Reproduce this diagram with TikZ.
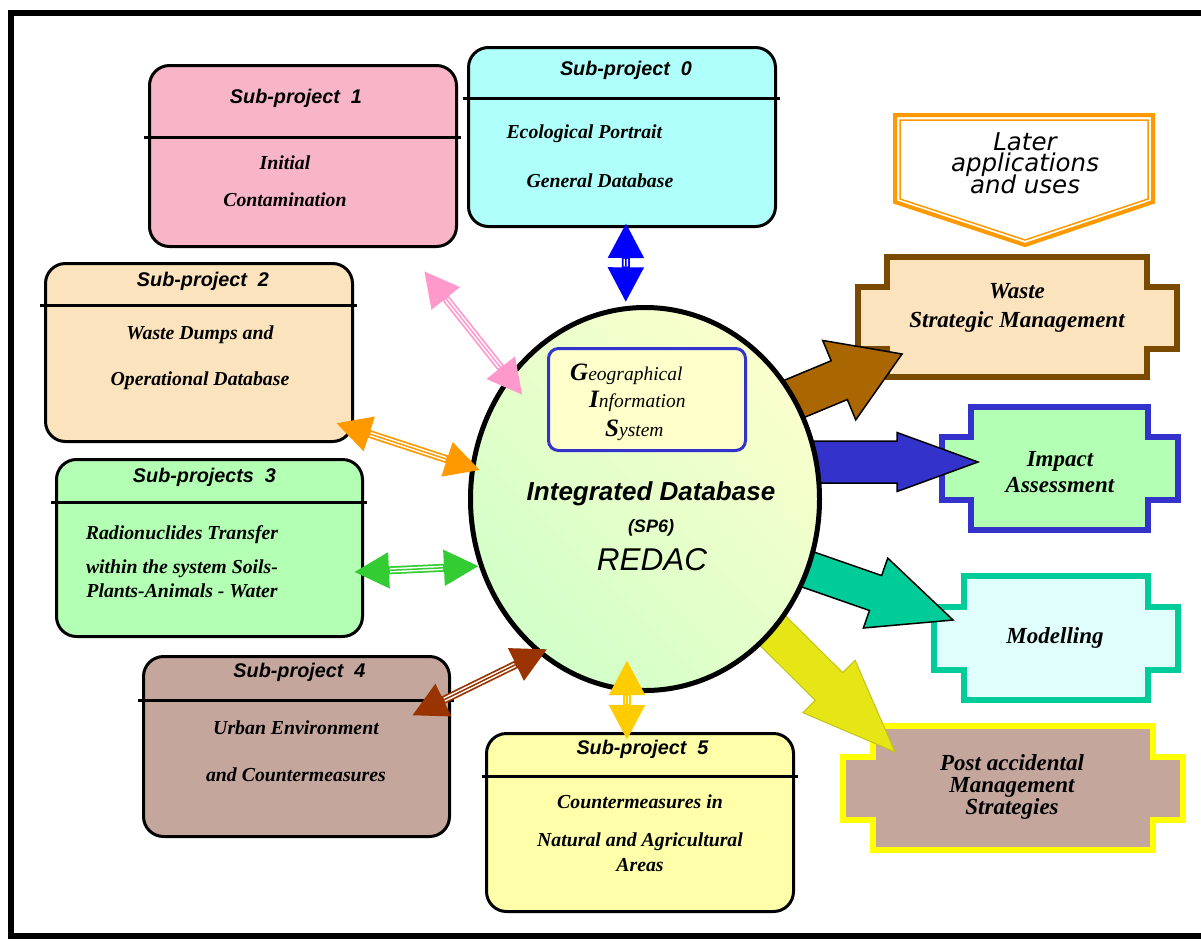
\documentclass[tikz,border=0pt]{standalone}
\usepackage{fontspec}
\setmainfont{Liberation Serif}
\setsansfont{Liberation Sans}
\newfontfamily\laterfont{DejaVu Sans}
\usetikzlibrary{arrows.meta,shapes.geometric}
\setlength{\lineskiplimit}{-30pt}

\definecolor{spzero}{HTML}{AFFFFA}
\definecolor{spone}{HTML}{F8B5C8}
\definecolor{sptwo}{HTML}{FBE3BD}
\definecolor{spthree}{HTML}{B3FFB3}
\definecolor{spfour}{HTML}{C4A69D}
\definecolor{spfive}{HTML}{FFFFAA}
\definecolor{wasteline}{HTML}{7A4A00}
\definecolor{impactline}{HTML}{3333CC}
\definecolor{modelline}{HTML}{00CC99}
\definecolor{modelfill}{HTML}{E0FFFC}
\definecolor{postline}{HTML}{FFFF00}
\definecolor{laterline}{HTML}{FF9900}
\definecolor{wastearrow}{HTML}{AA6600}
\definecolor{postarrow}{HTML}{E6E617}
\definecolor{ellgreen}{HTML}{D2FFC8}
\definecolor{ellyellow}{HTML}{FAFFCC}
\definecolor{gisfill}{HTML}{FFFFCC}
\definecolor{linkpink}{HTML}{FF99CC}
\definecolor{linkorange}{HTML}{FF9900}
\definecolor{linkgreen}{HTML}{33CC33}
\definecolor{linkbrown}{HTML}{993300}
\definecolor{linkgold}{HTML}{FFCC00}

% block arrow: style, tip, angle, length, shaft half width, head half width, head length
\newcommand{\blockarrow}[7]{%
	\path (#2) coordinate (ba-tip) ++(#3+180:#7) coordinate (ba-base)
		(ba-tip) ++(#3+180:#4) coordinate (ba-tail);
	\filldraw[#1] (ba-tip) -- ([shift={(#3+90:#6)}]ba-base) -- ([shift={(#3+90:#5)}]ba-base)
		-- ([shift={(#3+90:#5)}]ba-tail) -- ([shift={(#3-90:#5)}]ba-tail)
		-- ([shift={(#3-90:#5)}]ba-base) -- ([shift={(#3-90:#6)}]ba-base) -- cycle;}

\tikzset{
	spbox/.style = {rectangle, rounded corners=20pt, draw, line width=3pt, inner sep=0pt},
	sphead/.style = {font=\sffamily\bfseries\itshape\fontsize{19.8}{22}\selectfont},
	spbody/.style = {font=\bfseries\itshape\fontsize{19.8}{24}\selectfont, align=center},
	divider/.style = {line width=3pt},
	notch/.style = {line width=6pt},
	result/.style = {font=\bfseries\itshape\fontsize{23}{22}\selectfont, align=center},
	gisline/.style = {anchor=base west, inner sep=0pt, font=\itshape\fontsize{19.5}{20}\selectfont},
	link/.style = {draw=#1, line width=8pt,
		arrows={Triangle[length=35pt,width=34pt]-Triangle[length=35pt,width=34pt]},
		postaction={draw=white, line width=4.5pt, arrows=-, shorten <=36pt, shorten >=36pt},
		postaction={draw=#1, line width=1.5pt, arrows=-, shorten <=36pt, shorten >=36pt}}
}

\begin{document}
\begin{tikzpicture}[x=1pt, y=-1pt]

	\useasboundingbox (0,0) rectangle (1201,940);
	\clip (0,0) rectangle (1201,940);

	% Frame

	\draw[line width=6pt] (11,13) rectangle (1240,936);

	% Later applications

	\filldraw[laterline, fill=white, line width=4pt] (895,115) -- (1153,115) -- (1153,202) -- (1025,245) -- (895,202) -- cycle;
	\draw[laterline, line width=1.5pt] (900,120) -- (1148,120) -- (1148,199) -- (1025,240) -- (900,199) -- cycle;
	\node[align=center, font=\laterfont\itshape\fontsize{24.5}{21.5}\selectfont] (later) at (1025,163) {Later\\applications\\and uses};

	% Results

	\draw[notch, draw=wasteline, fill=sptwo] (887,257) -| (1147,287) -| (1177,349) -| (1147,377) -| (887,349) -| (858,287) -- (887,287) -- cycle;
	\draw[notch, draw=impactline, fill=spthree] (971,407) -| (1148,437) -| (1178,500) -| (1148,530) -| (971,500) -| (942,437) -- (971,437) -- cycle;
	\draw[notch, draw=modelline, fill=modelfill] (964,576) -| (1148,607) -| (1178,670) -| (1148,700) -| (964,670) -| (934,607) -- (964,607) -- cycle;
	\draw[notch, draw=postline, fill=spfour] (873,726) -| (1153,757) -| (1183,820) -| (1153,850) -| (873,820) -| (843,757) -- (873,757) -- cycle;

	\node[result] (waste) at (1017,307.5) {Waste\\[7pt]Strategic Management};
	\node[result] (impact) at (1060,472) {Impact\\[4pt]Assessment};
	\node[result] (model) at (1055,638) {Modelling};
	\node[result] (post) at (1012,787) {Post accidental\\Management\\Strategies};

	% Block arrows

	\blockarrow{fill=wastearrow, draw=black, line width=1.5pt}{[shift={(-115,46.5)}]waste.center}{-22.6}{168}{21}{43}{68}
	\blockarrow{fill=impactline, draw=black, line width=1.5pt}{[shift={(-82,-10)}]impact.center}{0}{200}{21}{29.5}{81}
	\blockarrow{fill=modelline, draw=black, line width=1.5pt}{[shift={(-102,-18)}]model.center}{19.2}{182}{18.5}{37}{82}
	\blockarrow{fill=postarrow, draw=postarrow!85!black, line width=1pt}{[shift={(-117,-35)}]post.center}{44.8}{223}{19.5}{37}{93}

	% Integrated database

	\node[ellipse, draw, line width=5pt, minimum width=349pt, minimum height=383pt, inner sep=0pt,
		top color=ellyellow, bottom color=ellgreen, shading angle=-45] (redac) at (645,499) {};
	\node[rectangle, rounded corners=10pt, draw=impactline, line width=3pt, fill=gisfill,
		minimum width=197pt, minimum height=102pt] (gis) at (647,399.5) {};
	\node[gisline] (gis1) at (570,380) {{\bfseries\fontsize{25}{25}\selectfont G}eographical};
	\node[gisline] (gis2) at (589,407) {{\bfseries\fontsize{25}{25}\selectfont I}nformation};
	\node[gisline] (gis3) at (605,436) {{\bfseries\fontsize{25}{25}\selectfont S}ystem};
	\node[anchor=base, font=\sffamily\bfseries\itshape\fontsize{26}{30}\selectfont] (intdb) at (651,500) {Integrated Database};
	\node[anchor=base, font=\sffamily\bfseries\itshape\fontsize{18}{20}\selectfont] (sp6) at (651,532) {(SP6)};
	\node[anchor=base, font=\sffamily\itshape\fontsize{31.5}{34}\selectfont] (redactext) at (652,570) {REDAC};

	% Sub-projects

	\node[spbox, fill=spzero, minimum width=307pt, minimum height=179pt] (sp0) at (622,137) {};
	\node[sphead] (sp0h) at (626,70) {Sub-project\ \ 0};
	\draw[divider] (463,98) -- (780,98);
	\node[spbody, anchor=west, align=left] (sp0t) at (503,156.5) {Ecological Portrait\\[25pt]\hspace*{20pt}General Database};

	\node[spbox, fill=spone, minimum width=307pt, minimum height=181pt] (sp1) at (303,156) {};
	\node[sphead] (sp1h) at (296,98) {Sub-project\ \ 1};
	\draw[divider] (144,137) -- (461,137);
	\node[spbody] (sp1t) at (285,181.5) {Initial\\[13pt]Contamination};

	\node[spbox, fill=sptwo, minimum width=307pt, minimum height=178pt] (sp2) at (199,352.5) {};
	\node[sphead] (sp2h) at (203,281) {Sub-project\ \ 2};
	\draw[divider] (40,305) -- (357,305);
	\node[spbody] (sp2t) at (200,358) {Waste Dumps and\\[22pt]Operational Database};

	\node[spbox, fill=spthree, minimum width=306pt, minimum height=177pt] (sp3) at (209.5,548) {};
	\node[sphead] (sp3h) at (204.5,477) {Sub-projects\ \ 3};
	\draw[divider] (51,502) -- (367,502);
	\node[spbody] (sp3t) at (182,562) {Radionuclides Transfer\\[10pt]within the system Soils-\\Plants-Animals - Water};

	\node[spbox, fill=spfour, minimum width=306pt, minimum height=180pt] (sp4) at (296.5,746.5) {};
	\node[sphead] (sp4h) at (299.5,672) {Sub-project\ \ 4};
	\draw[divider] (138,700) -- (454,700);
	\node[spbody] (sp4t) at (296,751.5) {Urban Environment\\[23pt]and Countermeasures};

	\node[spbox, fill=spfive, minimum width=307pt, minimum height=178pt] (sp5) at (640,822.5) {};
	\node[sphead] (sp5h) at (642.5,749) {Sub-project\ \ 5};
	\draw[divider] (482,776) -- (798,776);
	\node[spbody] (sp5t) at (640,833.5) {Countermeasures in\\[14pt]Natural and Agricultural\\[1pt]Areas};

	% Links

	\draw[link=blue] ([shift={(4,-5)}]sp0.south) -- ([shift={(1,-4)}]redac.96);
	\draw[link=linkpink] ([shift={(-34,23)}]sp1.south east) -- ([shift={(18,14)}]redac.140);
	\draw[link=linkorange] ([shift={(-18,-20)}]sp2.south east) -- ([shift={(10,2)}]redac.170);
	\draw[link=linkgreen] ([shift={(-10,24)}]sp3.east) -- (redac.202);
	\draw[link=linkbrown] ([shift={(-39,-31)}]sp4.east) -- ([shift={(5,-8)}]redac.237);
	\draw[link=linkgold] ([shift={(-13,8)}]sp5.north) -- ([shift={(-18,-33)}]redac.south);

\end{tikzpicture}
\end{document}
